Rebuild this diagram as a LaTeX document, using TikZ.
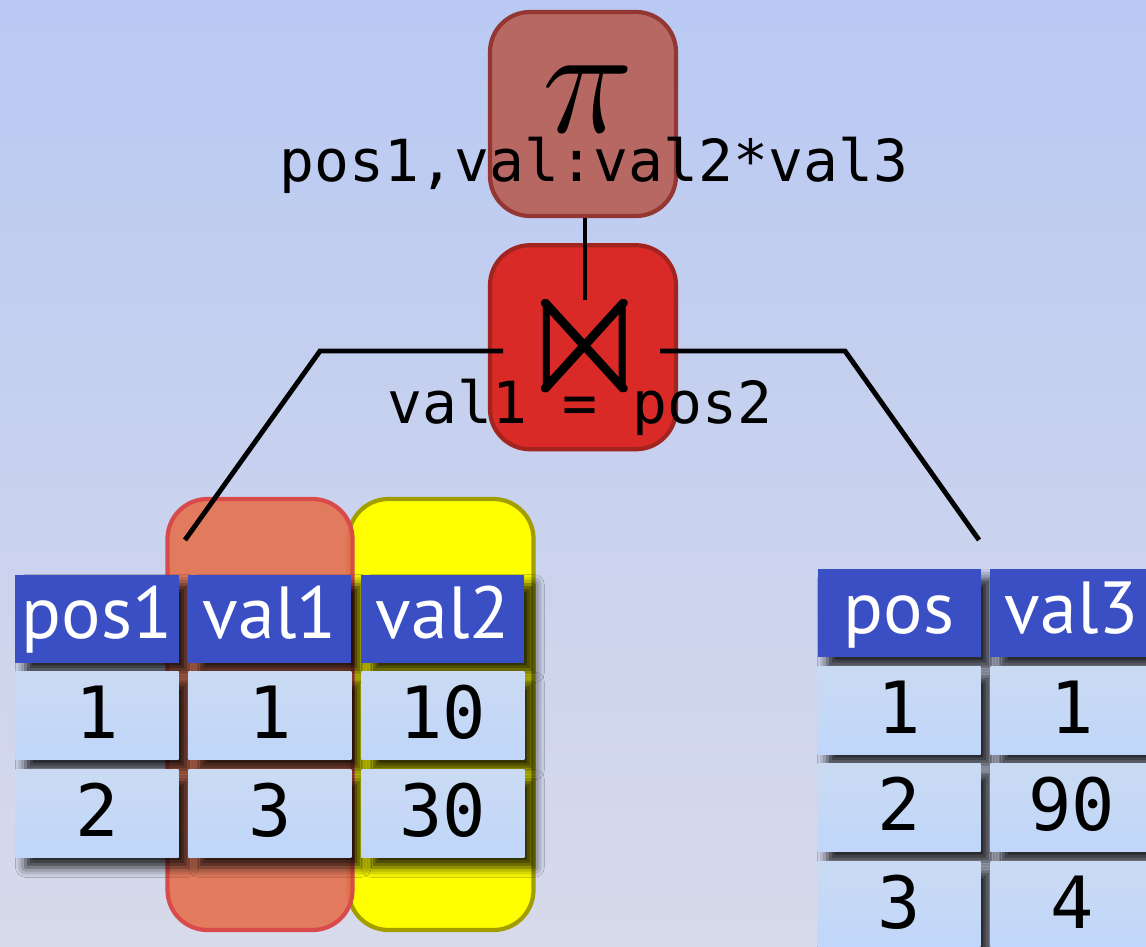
\documentclass[tikz,border=0pt]{standalone}
\usepackage{fix-cm}
\usepackage{amssymb}
\usepackage{fontspec}
\usetikzlibrary{positioning,shadows.blur}
\newfontfamily\headfont{PT Sans}
\newfontfamily\cellfont{DejaVu Sans Mono}
\definecolor{BgTop}{HTML}{B9C9F3}
\definecolor{BgBottom}{HTML}{D7DAEA}
\definecolor{ProjFill}{HTML}{B86862}
\definecolor{ProjRule}{HTML}{943631}
\definecolor{JoinFill}{HTML}{D92A27}
\definecolor{JoinRule}{HTML}{A2241F}
\definecolor{HeadBlue}{HTML}{3A4FC4}
\definecolor{CellTop}{HTML}{CADAF2}
\definecolor{CellBottom}{HTML}{C0D6FA}
\definecolor{MarkRed}{HTML}{E5714F}
\definecolor{MarkRedRule}{HTML}{D94B4B}
\definecolor{MarkYellow}{HTML}{FFFF00}
\definecolor{MarkYellowRule}{HTML}{A39E00}

\begin{document}
\begin{tikzpicture}[
  node distance=0.08cm and 0.085cm,
  opbox/.style={draw,line width=1.2pt,rounded corners=0.4cm,minimum width=1.86cm,minimum height=2.04cm},
  markbox/.style={draw,line width=1.2pt,rounded corners=0.4cm,minimum width=1.85cm,minimum height=4.31cm},
  cell/.style={minimum width=1.63cm,minimum height=0.88cm,inner sep=0pt,
    blur shadow={shadow xshift=0.1cm,shadow yshift=-0.1cm,shadow blur radius=0.1cm,shadow opacity=85}},
  headcell/.style={cell,fill=HeadBlue,text=white,text height=0.55cm,text depth=0.15cm,
    font=\headfont\fontsize{21}{21}\selectfont},
  valcell/.style={cell,top color=CellTop,bottom color=CellBottom,text height=0.6cm,text depth=0.14cm,
    font=\cellfont\fontsize{20.5}{20.5}\selectfont},
  condtext/.style={font=\cellfont\fontsize{16.5}{16.5}\selectfont,anchor=base,inner sep=0pt},
  link/.style={line width=1.4pt}
]
  \useasboundingbox (0,0) rectangle (11.46,9.46);
  \clip (0,0) rectangle (11.46,9.46);
  \shade[top color=BgTop,bottom color=BgBottom] (0,0) rectangle (11.46,9.46);

  % highlighted columns
  \node[markbox,fill=MarkYellow,draw=MarkYellowRule] (markval2) at (4.41,2.315) {};
  \node[markbox,fill=MarkRed,draw=MarkRedRule,fill opacity=0.9] (markval1) at (2.60,2.315) {};

  % left table
  \node[headcell] (pos1) at (0.97,3.275) {pos1};
  \node[headcell,right=of pos1] (val1) {val1};
  \node[headcell,right=of val1] (val2) {val2};
  \node[valcell,below=of pos1] (ra1) {1};
  \node[valcell,right=of ra1] (rb1) {1};
  \node[valcell,right=of rb1] (rc1) {10};
  \node[valcell,below=of ra1] (ra2) {2};
  \node[valcell,right=of ra2] (rb2) {3};
  \node[valcell,right=of rb2] (rc2) {30};

  % right table
  \node[headcell] (pos) at (8.99,3.33) {pos};
  \node[headcell,right=of pos] (val3) {val3};
  \node[valcell,below=of pos] (sa1) {1};
  \node[valcell,right=of sa1] (sb1) {1};
  \node[valcell,below=of sa1] (sa2) {2};
  \node[valcell,right=of sa2] (sb2) {90};
  \node[valcell,below=of sa2] (sa3) {3};
  \node[valcell,right=of sa3] (sb3) {4};

  % operators
  \node[opbox,fill=ProjFill,draw=ProjRule] (proj) at (5.83,8.32) {};
  \node[opbox,fill=JoinFill,draw=JoinRule,below=0.25cm of proj] (join) {};
  \node[font=\fontsize{44}{44}\selectfont] (pi) at (5.88,8.47) {$\pi$};
  \node[condtext] (projcond) at (5.94,7.64) {pos1,val:val2*val3};
  \node[font=\fontsize{50}{50}\selectfont,yscale=1.1] (bowtie) at (5.85,6.0) {$\Join$};
  \node[condtext] (joincond) at (5.80,5.23) {val1 = pos2};

  \coordinate (jointop) at (5.85,6.46);
  \coordinate (joinleft) at (5.03,5.95);
  \coordinate (joinright) at (6.60,5.95);
  \coordinate (leftend) at (1.85,4.06);
  \coordinate (rightend) at (9.79,4.06);
  \draw[link] (proj.south -| jointop) -- (jointop);
  \draw[link] (joinleft) -- (3.20,5.95) -- (leftend);
  \draw[link] (joinright) -- (8.45,5.95) -- (rightend);
\end{tikzpicture}
\end{document}
